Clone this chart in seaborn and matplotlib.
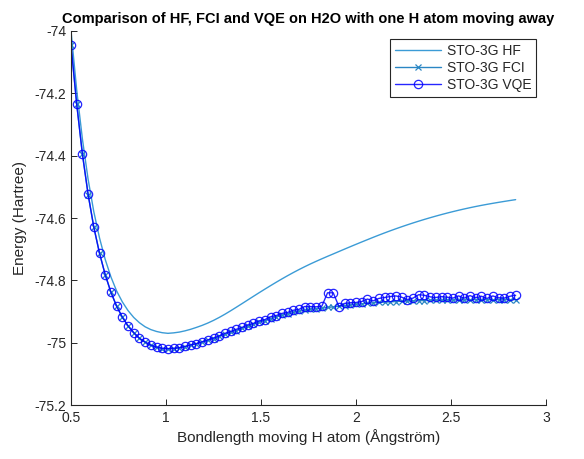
import numpy as np
import pandas as pd
import matplotlib
matplotlib.use("Agg")
import matplotlib.pyplot as plt
import seaborn as sns

# Bond length of the moving H atom (Angstrom)
bondlength = [
    0.50, 0.53, 0.56, 0.59, 0.62, 0.65, 0.68, 0.71, 0.74, 0.77,
    0.80, 0.83, 0.86, 0.89, 0.92, 0.95, 0.98, 1.01, 1.04, 1.07,
    1.10, 1.13, 1.16, 1.19, 1.22, 1.25, 1.28, 1.31, 1.34, 1.37,
    1.40, 1.43, 1.46, 1.49, 1.52, 1.55, 1.58, 1.61, 1.64, 1.67,
    1.70, 1.73, 1.76, 1.79, 1.82, 1.85, 1.88, 1.91, 1.94, 1.97,
    2.00, 2.03, 2.06, 2.09, 2.12, 2.15, 2.18, 2.21, 2.24, 2.27,
    2.30, 2.33, 2.36, 2.39, 2.42, 2.45, 2.48, 2.51, 2.54, 2.57,
    2.60, 2.63, 2.66, 2.69, 2.72, 2.75, 2.78, 2.81, 2.84,
]

# Energies (Hartree)
energy_hf = [
    -74.000, -74.190, -74.347, -74.476, -74.580, -74.664, -74.733, -74.789, -74.834, -74.869,
    -74.897, -74.919, -74.936, -74.949, -74.958, -74.964, -74.968, -74.970, -74.9685, -74.966,
    -74.962, -74.957, -74.951, -74.9445, -74.937, -74.9285, -74.919, -74.9087, -74.8977, -74.8863,
    -74.8747, -74.863, -74.8513, -74.8397, -74.8283, -74.8171, -74.8061, -74.7954, -74.785, -74.775,
    -74.7654, -74.7562, -74.7474, -74.739, -74.7309, -74.723, -74.7153, -74.7075, -74.6997, -74.692,
    -74.6844, -74.6769, -74.6695, -74.6621, -74.6549, -74.6479, -74.6411, -74.6345, -74.6281, -74.6219,
    -74.6159, -74.6101, -74.6045, -74.5991, -74.5939, -74.5889, -74.5841, -74.5795, -74.5751, -74.5709,
    -74.5669, -74.5631, -74.5595, -74.5561, -74.5529, -74.5498, -74.5468, -74.5439, -74.5411,
]

energy_fci = [
    -74.045, -74.235, -74.395, -74.525, -74.630, -74.713, -74.782, -74.838, -74.883, -74.918,
    -74.946, -74.968, -74.986, -74.999, -75.009, -75.015, -75.019, -75.020, -75.019, -75.017,
    -75.013, -75.008, -75.003, -74.999, -74.993, -74.987, -74.980, -74.973, -74.967, -74.961,
    -74.954, -74.948, -74.941, -74.935, -74.929, -74.923, -74.917, -74.912, -74.907, -74.903,
    -74.899, -74.896, -74.893, -74.891, -74.889, -74.887, -74.885, -74.883, -74.881, -74.879,
    -74.877, -74.875, -74.874, -74.872, -74.871, -74.870, -74.869, -74.868, -74.867, -74.866,
    -74.866, -74.865, -74.865, -74.864, -74.864, -74.864, -74.863, -74.863, -74.863, -74.863,
    -74.862, -74.862, -74.862, -74.862, -74.862, -74.862, -74.862, -74.862, -74.862,
]

energy_vqe = [
    -74.045, -74.235, -74.395, -74.524, -74.629, -74.713, -74.782, -74.838, -74.883, -74.918,
    -74.946, -74.968, -74.986, -74.998, -75.008, -75.014, -75.018, -75.019, -75.018, -75.016,
    -75.012, -75.007, -75.003, -74.997, -74.991, -74.985, -74.978, -74.970, -74.964, -74.957,
    -74.951, -74.943, -74.938, -74.930, -74.926, -74.917, -74.913, -74.906, -74.903, -74.896,
    -74.893, -74.884, -74.884, -74.885, -74.883, -74.840, -74.840, -74.884, -74.874, -74.872,
    -74.871, -74.868, -74.860, -74.866, -74.858, -74.855, -74.852, -74.850, -74.854, -74.862,
    -74.857, -74.846, -74.848, -74.853, -74.855, -74.852, -74.854, -74.857, -74.850, -74.857,
    -74.849, -74.856, -74.851, -74.858, -74.850, -74.856, -74.857, -74.851, -74.848,
]

x_ticks = [0.5, 1, 1.5, 2, 2.5, 3]
x_tick_labels = ["0.5", "1", "1.5", "2", "2.5", "3"]
y_ticks = [-75.2, -75.0, -74.8, -74.6, -74.4, -74.2, -74.0]
y_tick_labels = ["-75.2", "-75", "-74.8", "-74.6", "-74.4", "-74.2", "-74"]

df = pd.DataFrame({
    "bond": bondlength,
    "hf": energy_hf,
    "fci": energy_fci,
    "vqe": energy_vqe,
})

sns.set_theme(style="white")
plt.rcParams["font.family"] = ["Liberation Sans", "DejaVu Sans"]
plt.rcParams["axes.unicode_minus"] = False

fig = plt.figure(figsize=(5.84, 4.59), dpi=100)
ax = fig.add_axes([0.1216, 0.1176, 0.8134, 0.8149])

hf_color = "#3b9bd6"
fci_color = "#2a86c4"
vqe_color = "#0000ff"

sns.lineplot(data=df, x="bond", y="hf", ax=ax, color=hf_color, linewidth=1.0,
             label="STO-3G HF")
sns.lineplot(data=df, x="bond", y="fci", ax=ax, color=fci_color, linewidth=1.0,
             marker="x", markersize=4, markeredgewidth=0.9, markeredgecolor=fci_color,
             label="STO-3G FCI")
sns.lineplot(data=df, x="bond", y="vqe", ax=ax, color=vqe_color, linewidth=1.0,
             marker="o", markersize=6, markerfacecolor="none", markeredgewidth=0.9,
             markeredgecolor=vqe_color, alpha=0.85, label="STO-3G VQE")

ax.set_xlim(0.5, 3.0)
ax.set_ylim(-75.2, -74.0)
ax.set_xticks(x_ticks)
ax.set_xticklabels(x_tick_labels)
ax.set_yticks(y_ticks)
ax.set_yticklabels(y_tick_labels)

axis_color = "#262626"
for side in ["top", "right"]:
    ax.spines[side].set_visible(False)
for side in ["left", "bottom"]:
    ax.spines[side].set_color(axis_color)
    ax.spines[side].set_linewidth(0.8)
ax.tick_params(axis="both", direction="in", length=4, width=0.7, colors=axis_color,
               labelsize=10, labelcolor=axis_color, bottom=True, left=True)
ax.tick_params(axis="x", pad=4)

ax.set_xlabel("Bondlength moving H atom (Ångström)", fontsize=11, color=axis_color, labelpad=3)
ax.set_ylabel("Energy (Hartree)", fontsize=11, color=axis_color, labelpad=5)
ax.set_title("Comparison of HF, FCI and VQE on H2O with one H atom moving away",
             fontsize=10.5, fontweight="bold", color="black", pad=6)

leg = ax.legend(loc="upper right", bbox_to_anchor=(0.985, 0.985), fontsize=10,
                frameon=True, fancybox=False, framealpha=1, edgecolor="#262626",
                handlelength=3.3, handletextpad=0.4, borderpad=0.35, labelspacing=0.2,
                borderaxespad=0.2)
leg.get_frame().set_linewidth(0.8)

fig.savefig("out.png", dpi=100)
